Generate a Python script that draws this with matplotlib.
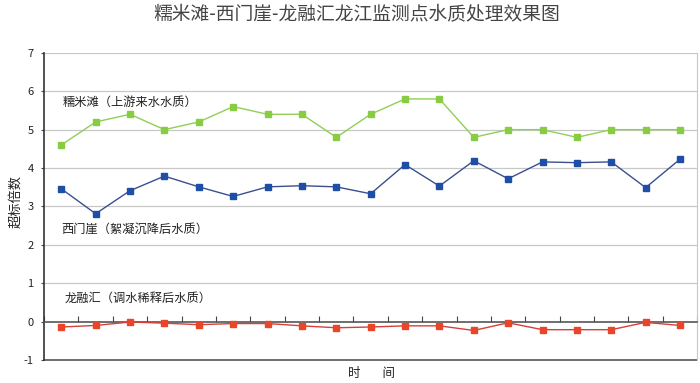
import numpy as np
import matplotlib
matplotlib.use("Agg")
import matplotlib.pyplot as plt

plt.rcParams['font.family'] = ['Noto Sans CJK SC', 'DejaVu Sans']
plt.rcParams['axes.unicode_minus'] = False

title = "糯米滩-西门崖-龙融汇龙江监测点水质处理效果图"
ylabel = "超标倍数"
xlabel = "时        间"
series_names = ["糯米滩（上游来水水质）", "西门崖（絮凝沉降后水质）", "龙融汇（调水稀释后水质）"]

numi = [4.6, 5.2, 5.4, 5.0, 5.2, 5.6, 5.4, 5.4, 4.8, 5.4, 5.8, 5.8, 4.8, 5.0, 5.0, 4.8, 5.0, 5.0, 5.0]
ximen = [3.46, 2.81, 3.41, 3.79, 3.51, 3.26, 3.51, 3.54, 3.51, 3.33, 4.09, 3.53, 4.19, 3.72, 4.16, 4.14, 4.16, 3.49, 4.23]
longrong = [-0.14, -0.10, -0.01, -0.04, -0.08, -0.05, -0.05, -0.11, -0.16, -0.14, -0.11, -0.11, -0.23, -0.03, -0.21, -0.21, -0.21, -0.02, -0.10]
yticks = [-1, 0, 1, 2, 3, 4, 5, 6, 7]

n = len(numi)
x = np.arange(n) + 0.5

fig = plt.figure(figsize=(7.0, 3.83), dpi=100)
ax = fig.add_axes([0.063, 0.060, 0.933, 0.802])

ax.set_xlim(0, n)
ax.set_ylim(-1, 7)

for yv in yticks[2:]:
    ax.axhline(yv, color='#c8c8c8', lw=0.9, zorder=0)
ax.axhline(-1, color='#555555', lw=1.2, zorder=1, clip_on=False)

ax.plot(x, numi, color='#8fcf55', lw=1.0, marker='s', ms=5, mfc='#88cc44', mec='#88cc44', zorder=3)
ax.plot(x, ximen, color='#3b4f8e', lw=1.0, marker='s', ms=5, mfc='#1f4ea6', mec='#1f4ea6', zorder=3)
ax.plot(x, longrong, color='#d64038', lw=1.0, marker='s', ms=5, mfc='#e8452a', mec='#e8452a', zorder=3)

ax.spines['bottom'].set_position(('data', 0))
ax.spines['bottom'].set_color('#555555')
ax.spines['bottom'].set_linewidth(1.2)
ax.spines['left'].set_color('#333333')
ax.spines['left'].set_linewidth(1.2)
ax.spines['top'].set_visible(False)
ax.spines['right'].set_color('#c8c8c8')

ax.set_xticks(np.arange(0, n + 1))
ax.set_xticklabels([])
ax.tick_params(axis='x', direction='in', length=4, color='#444444')
ax.set_yticks(yticks)
ax.set_yticklabels([str(v) for v in yticks], fontsize=8, color='#222222')
ax.tick_params(axis='y', direction='out', length=2.5, color='#444444', pad=5)

ax.text(0.55, 5.72, series_names[0], fontsize=8.8, color='#222222', va='center', ha='left')
ax.text(0.5, 2.4, series_names[1], fontsize=8.8, color='#222222', va='center', ha='left')
ax.text(0.6, 0.6, series_names[2], fontsize=8.8, color='#222222', va='center', ha='left')

fig.text(0.51, 0.961, title, fontsize=13.5, color='#444444', ha='center', va='center')
fig.text(0.023, 0.473, ylabel, fontsize=9.5, color='#222222', rotation=90, ha='center', va='center')
fig.text(0.53, 0.026, xlabel, fontsize=9, color='#222222', ha='center', va='center')

fig.savefig('out.png', dpi=100)
